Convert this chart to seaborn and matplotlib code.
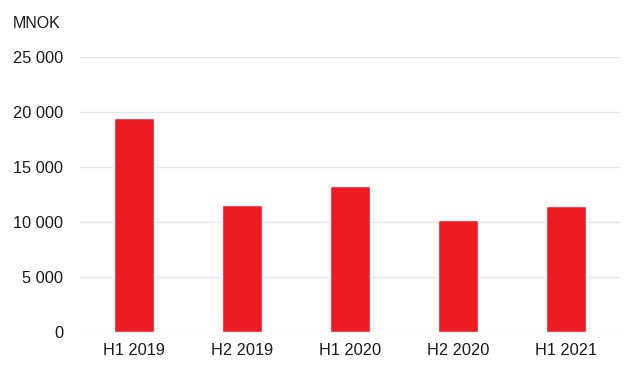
import matplotlib
matplotlib.use("Agg")
import matplotlib.pyplot as plt
import seaborn as sns
import pandas as pd
from matplotlib.ticker import FuncFormatter, MultipleLocator

categories = ["H1 2019", "H2 2019", "H1 2020", "H2 2020", "H1 2021"]
values = [19450, 11550, 13270, 10150, 11420]

sns.set_theme(style="white")
plt.rcParams['font.family'] = ['Liberation Sans', 'DejaVu Sans']

df = pd.DataFrame({"period": categories, "value": values})

fig = plt.figure(figsize=(6.41, 3.73), dpi=100)
ax = fig.add_axes([80/641, 1-332/373, 540/641, 275/373])
sns.barplot(data=df, x="period", y="value", color="#ED1C24", saturation=1,
            width=0.37, ax=ax, zorder=3)
ax.set_ylim(0, 25000)
ax.set_xlim(-0.5, 4.5)
ax.yaxis.set_major_locator(MultipleLocator(5000))
ax.yaxis.set_major_formatter(FuncFormatter(lambda v, p: f"{int(v):,}".replace(",", " ")))
ax.grid(axis="y", color="#e6e6e6", linewidth=1, zorder=0)
ax.set_axisbelow(True)
for s in ax.spines.values():
    s.set_visible(False)
ax.set_xlabel("")
ax.set_ylabel("")
ax.tick_params(axis="both", length=0, labelsize=11.8, colors="#1a1a1a")
ax.tick_params(axis="y", pad=12)
ax.tick_params(axis="x", pad=8)
fig.text(13/641, 1-23/373, "MNOK", fontsize=11.5, color="#1a1a1a", va="center", ha="left")
fig.savefig("out.png", dpi=100)
